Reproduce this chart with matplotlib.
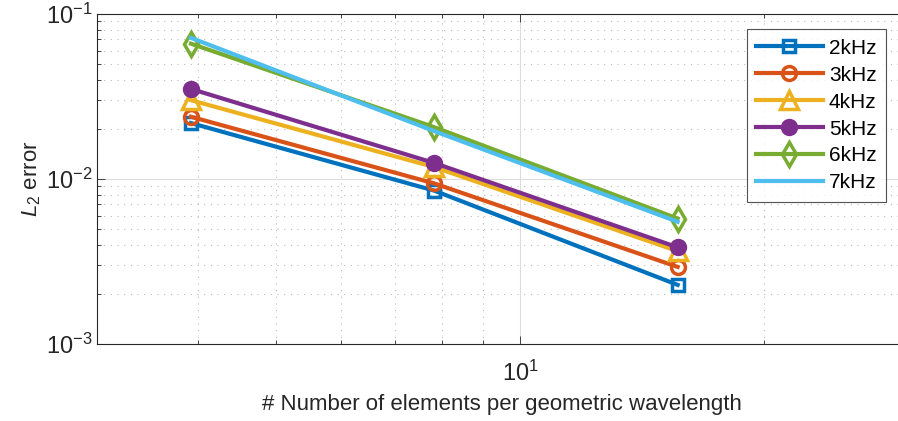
import matplotlib
matplotlib.use("Agg")
from matplotlib import pyplot as plt
from matplotlib.ticker import LogLocator, NullFormatter

plt.rcParams['font.family'] = ['Liberation Sans', 'DejaVu Sans']
plt.rcParams['mathtext.fontset'] = 'custom'
plt.rcParams['mathtext.rm'] = 'Liberation Sans'
plt.rcParams['mathtext.it'] = 'Liberation Sans:italic'

# Data.
elements = [3.92, 7.83, 15.66]
err_2k = [0.0218, 0.0085, 0.00228]
err_3k = [0.0238, 0.0094, 0.00293]
err_4k = [0.0300, 0.0118, 0.00365]
err_5k = [0.0351, 0.0125, 0.00385]
err_6k = [0.0660, 0.0206, 0.00575]
err_7k = [0.0716, 0.0195, 0.00550]
labels = ["2kHz", "3kHz", "4kHz", "5kHz", "6kHz", "7kHz"]

series = [err_2k, err_3k, err_4k, err_5k, err_6k, err_7k]
colors = ['#0072BD', '#D95319', '#EDB120', '#7E2F8E', '#77AC30', '#4DBEEE']
markers = ['s', 'o', '^', 'o', 'd', 'None']
msizes = [9, 10, 13, 10, 12.5, 0]
faces = ['none', 'none', 'none', '#7E2F8E', 'none', 'none']

fig = plt.figure(figsize=(8.98, 4.21), dpi=100)
ax = fig.add_axes([0.108, 0.183, 0.901, 0.784])

for y, c, m, ms, fc, lab in zip(series, colors, markers, msizes, faces, labels):
    ax.plot(elements, y, color=c, lw=3, marker=m, ms=ms, mfc=fc,
            mew=2.5, label=lab)

ax.set_xscale('log')
ax.set_yscale('log')
ax.set_xlim(3, 30)
ax.set_ylim(1e-3, 1e-1)

ax.xaxis.set_major_locator(LogLocator(base=10))
ax.xaxis.set_minor_locator(LogLocator(base=10, subs=range(2, 10)))
ax.xaxis.set_minor_formatter(NullFormatter())
ax.yaxis.set_minor_formatter(NullFormatter())

ax.grid(True, which='major', color='#dcdcdc', lw=0.8, ls='-')
ax.grid(True, which='minor', color='#bbbbbb', lw=0.8, ls=(0, (1, 5)))
ax.set_axisbelow(True)

ax.tick_params(axis='both', which='both', direction='in', top=True,
               right=True, labelsize=17, colors='#262626', width=0.6)
ax.tick_params(which='major', length=6)
ax.tick_params(which='minor', length=3)
ax.tick_params(axis='x', pad=12)
for sp in ax.spines.values():
    sp.set_color('#262626')
    sp.set_linewidth(0.8)

ax.set_xlabel("# Number of elements per geometric wavelength",
              fontsize=16, color='#262626', labelpad=6)
ax.set_ylabel(r"$L_2$ error", fontsize=16, color='#262626', labelpad=2)

leg = ax.legend(loc='upper right', bbox_to_anchor=(0.975, 0.953),
                fontsize=15, frameon=True, fancybox=False, handlelength=3.2,
                borderpad=0.45, labelspacing=0.38, handletextpad=0.3,
                borderaxespad=0)
leg.get_frame().set_edgecolor('#262626')
leg.get_frame().set_linewidth(0.8)

fig.savefig("out.png", dpi=100)
